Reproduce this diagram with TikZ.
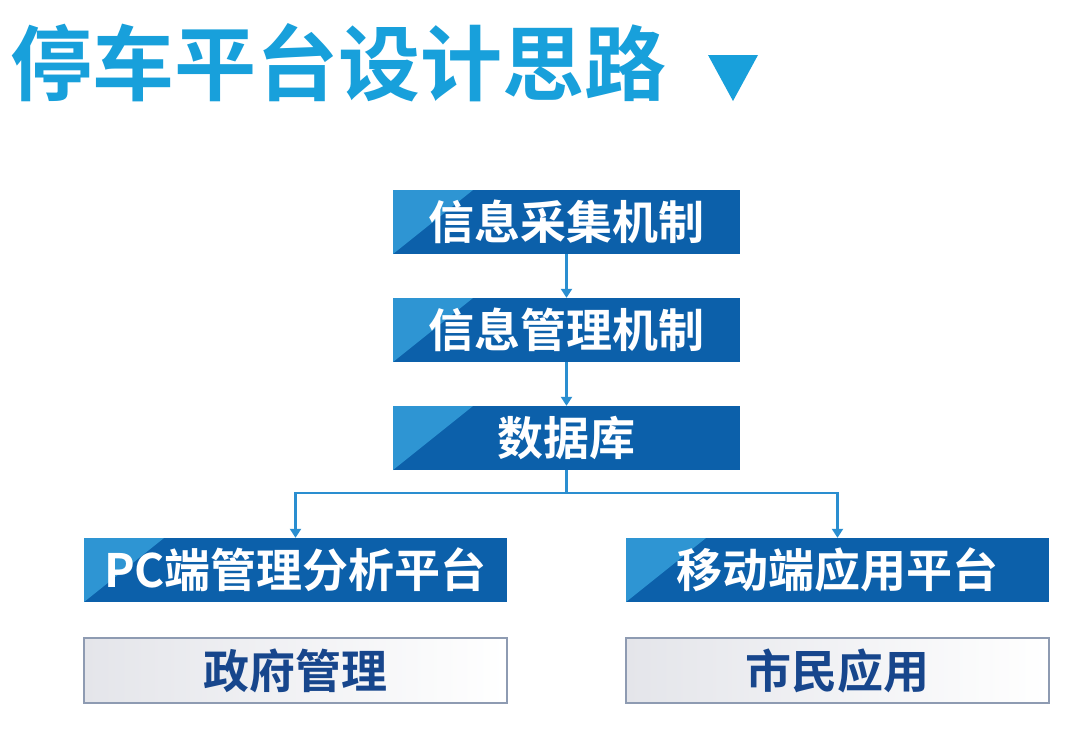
\documentclass[tikz,border=0pt]{standalone}
\usepackage{fontspec}
\newfontfamily\cjk{Noto Sans CJK SC Bold}
\usetikzlibrary{arrows.meta}
\definecolor{titleblue}{HTML}{18A0DB}
\definecolor{boxdark}{HTML}{0C60AA}
\definecolor{boxlight}{HTML}{2E95D3}
\definecolor{linkblue}{HTML}{2A8ED0}
\definecolor{greytext}{HTML}{17468C}
\definecolor{greyborder}{HTML}{8E9BB2}
\definecolor{greyfill}{HTML}{E4E5EA}
\tikzset{
  bluebox/.style={draw=none, fill=boxdark, minimum width=347pt, minimum height=64pt,
    inner sep=0pt, text=white, font=\cjk\fontsize{46}{50}\selectfont,
    path picture={\fill[boxlight] (path picture bounding box.north west) -- ++(80,0)
      -- (path picture bounding box.south west) -- cycle;}},
  widebox/.style={bluebox, minimum width=423pt},
  greybox/.style={draw=greyborder, line width=1.2pt, left color=greyfill, right color=white,
    minimum width=423pt, minimum height=65pt, inner sep=0pt, text=greytext,
    font=\cjk\fontsize{46}{50}\selectfont},
  conn/.style={draw=linkblue, line width=2.6pt},
  arr/.style={conn, -{Triangle[width=11pt,length=9pt]}},
}
\begin{document}
\begin{tikzpicture}[x=1pt,y=-1pt]
\useasboundingbox[fill=white] (0,0) rectangle (1080,740);
\node[anchor=west, text=titleblue, inner sep=0pt, font=\cjk\fontsize{82}{88}\selectfont] (title) at (10,63)
  {停车平台设计思路};
\fill[titleblue] (708,55) -- (758,55) -- (733,101) -- cycle;
\node[bluebox] (b1) at (566.5,222) {信息采集机制};
\node[bluebox] (b2) at (566.5,330) {信息管理机制};
\node[bluebox] (b3) at (566.5,438) {数据库};
\node[widebox] (b4) at (295.5,570) {PC端管理分析平台};
\node[widebox] (b5) at (837.5,570) {移动端应用平台};
\node[greybox] (g1) at (295.5,670.5) {政府管理};
\node[greybox] (g2) at (837.5,670.5) {市民应用};
\draw[arr] (b1) -- (b2);
\draw[arr] (b2) -- (b3);
\coordinate (j) at (566.5,493);
\draw[conn] (b3.south) -- (j);
\draw[arr] (j) -| (b4.north);
\draw[arr] (j) -| (b5.north);
\end{tikzpicture}
\end{document}
